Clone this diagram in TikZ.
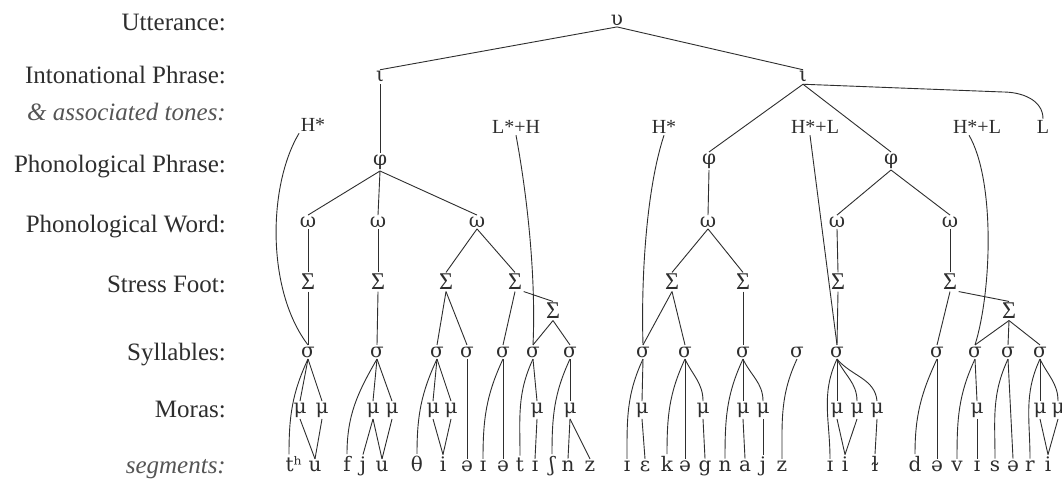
\documentclass[tikz,border=0pt]{standalone}
\usepackage{fontspec}
\setmainfont{Liberation Serif}
\newfontfamily\symfont{DejaVu Serif}
\definecolor{ink}{HTML}{2E2E2E}
\definecolor{soft}{HTML}{555555}
\tikzset{
  lab/.style={anchor=base east, inner sep=0pt, text=ink, font=\fontsize{25}{30}\selectfont},
  labit/.style={anchor=base east, inner sep=0pt, text=soft, font=\itshape\fontsize{25}{30}\selectfont},
  tone/.style={inner sep=1.5pt, text=ink, font=\fontsize{20}{24}\selectfont},
  sym/.style={inner sep=1.5pt, text=ink, font=\symfont\fontsize{20}{24}\selectfont},
  foot/.style={inner sep=1.5pt, text=ink, font=\fontsize{24}{28}\selectfont},
  seg/.style={anchor=base, inner sep=1.5pt, text=ink, font=\symfont\fontsize{20}{24}\selectfont},
  link/.style={draw=ink, line width=0.9pt},
  onsetc/.style={out=-115, in=90},
  codac/.style={out=-65, in=90},
}
\begin{document}
\begin{tikzpicture}[x=1pt,y=-1pt]
\useasboundingbox[fill=white] (0,0) rectangle (1062,486);
% level labels
\node[lab]   (l1) at (226,31)  {Utterance:};
\node[lab]   (l2) at (226,84)  {Intonational Phrase:};
\node[labit] (l3) at (226,121) {\& associated tones:};
\node[lab]   (l4) at (226,173) {Phonological Phrase:};
\node[lab]   (l5) at (226,233) {Phonological Word:};
\node[lab]   (l6) at (226,292) {Stress Foot:};
\node[lab]   (l7) at (226,360) {Syllables:};
\node[lab]   (l8) at (226,417) {Moras:};
\node[labit] (l9) at (226,473) {segments:};
% utterance, intonational phrases
\node[sym] (U)  at (617,20) {υ};
\node[sym] (I1) at (380,77) {ι};
\node[sym] (I2) at (803,77) {ι};
% tones
\node[tone] (T1) at (313,125) {H*};
\node[tone] (T2) at (516,127) {L*+H};
\node[tone] (T3) at (664,127) {H*};
\node[tone] (T4) at (815,127) {H*+L};
\node[tone] (T5) at (977,127) {H*+L};
\node[tone] (T6) at (1043,127) {L};
% phonological phrases
\node[sym] (P1) at (380,162) {φ};
\node[sym] (P2) at (709,161) {φ};
\node[sym] (P3) at (891,161) {φ};
% phonological words
\node[sym] (W1) at (308,222) {ω};
\node[sym] (W2) at (378,222) {ω};
\node[sym] (W3) at (477,222) {ω};
\node[sym] (W4) at (708,222) {ω};
\node[sym] (W5) at (837,222) {ω};
\node[sym] (W6) at (950,222) {ω};
% feet
\node[foot] (F1) at (308,282) {Σ};
\node[foot] (F2) at (378,282) {Σ};
\node[foot] (F3) at (446,282) {Σ};
\node[foot] (F4) at (515,282) {Σ};
\node[foot] (F5) at (672,282) {Σ};
\node[foot] (F6) at (743,282) {Σ};
\node[foot] (F7) at (838,282) {Σ};
\node[foot] (F8) at (950,282) {Σ};
\node[foot] (SF1) at (553,311) {Σ};
\node[foot] (SF2) at (1009,311) {Σ};
% syllables
\foreach \n/\x in {1/308,2/377,3/437,4/467,5/503,6/533,7/570,8/643,9/685,10/743,11/797,12/837,13/937,14/975,15/1008,16/1040}
  \node[sym] (S\n) at (\x,352) {σ};
% moras
\foreach \n/\x in {1/300,2/322,3/373,4/392,5/433,6/451,7/537,8/570,9/642,10/703,11/743,12/763,13/837,14/857,15/877,16/977,17/1040,18/1058}
  \node[sym] (m\n) at (\x,410) {μ};
% segments
\foreach \n/\x/\s in {1/294/tʰ,2/315/u,3/347/f,4/363/j,5/382/u,6/417/θ,7/443/i,8/467/ə,9/483/ɪ,10/503/ə,11/520/t,12/535/ɪ,13/552/ʃ,14/568/n,15/590/z,16/627/ɪ,17/645/ɛ,18/667/k,19/685/ə,20/705/g,21/725/n,22/745/a,23/763/j,24/782/z,25/830/ɪ,26/845/i,27/875/ɫ,28/915/d,29/937/ə,30/957/v,31/977/ɪ,32/995/s,33/1013/ə,34/1030/r,35/1048/i}
  \node[seg] (g\n) at (\x,471) {\s};
\coordinate (Lbend) at (1003,92);
% upper tree
\draw[link] (U.south) -- (I1.north);
\draw[link] (U.south) -- (I2.north);
\draw[link] (I1.south) -- (P1.north);
\draw[link] (I2.south) -- (P2.north);
\draw[link] (I2.south) -- (P3.north);
\draw[link] (I2.south) -- (Lbend) to[out=0, in=90] (T6.north);
\draw[link] (P1.south) -- (W1.north);
\draw[link] (P1.south) -- (W2.north);
\draw[link] (P1.south) -- (W3.north);
\draw[link] (P2.south) -- (W4.north);
\draw[link] (P3.south) -- (W5.north);
\draw[link] (P3.south) -- (W6.north);
\draw[link] (W1.south) -- (F1.north);
\draw[link] (W2.south) -- (F2.north);
\draw[link] (W3.south) -- (F3.north);
\draw[link] (W3.south) -- (F4.north);
\draw[link] (W4.south) -- (F5.north);
\draw[link] (W4.south) -- (F6.north);
\draw[link] (W5.south) -- (F7.north);
\draw[link] (W6.south) -- (F8.north);
\draw[link] (F1.south) -- (S1.north);
\draw[link] (F2.south) -- (S2.north);
\draw[link] (F3.south) -- (S3.north);
\draw[link] (F3.south) -- (S4.north);
\draw[link] (F4.south) -- (S5.north);
\draw[link] (F4.south east) -- (SF1.north);
\draw[link] (SF1.south) -- (S6.north);
\draw[link] (SF1.south) -- (S7.north);
\draw[link] (F5.south) -- (S8.north);
\draw[link] (F5.south) -- (S9.north);
\draw[link] (F6.south) -- (S10.north);
\draw[link] (F7.south) -- (S12.north);
\draw[link] (F8.south) -- (S13.north);
\draw[link] (F8.south east) -- (SF2.north);
\draw[link] (SF2.south) -- (S14.north);
\draw[link] (SF2.south) -- (S15.north);
\draw[link] (SF2.south) -- (S16.north);
% tone associations
\draw[link] (T1.south west) .. controls (268,185) and (266,290) .. (S1.north);
\draw[link] (T2.south) .. controls (528,200) and (536,280) .. (S6.north);
\draw[link] (T3.south) .. controls (646,190) and (641,280) .. (S8.north);
\draw[link] ([xshift=-5pt]T4.south) -- (S12.north);
\draw[link] ([xshift=-8pt]T5.south) .. controls (995,180) and (992,290) .. (S14.north);
% syllable 1: t^h u
\draw[link] (S1.south) to[onsetc] ([xshift=-5pt]g1.north);
\draw[link] (S1.south) -- (m1.north);
\draw[link] (S1.south) -- (m2.north);
\draw[link] (m1.south) -- (g2.north);
\draw[link] (m2.south) -- (g2.north);
% syllable 2: f j u
\draw[link] (S2.south) to[out=-120, in=90] (g3.north);
\draw[link] (S2.south) -- (m3.north);
\draw[link] (S2.south) -- (m4.north);
\draw[link] (m3.south) -- (g4.north);
\draw[link] (m3.south) -- (g5.north);
\draw[link] (m4.south) -- (g5.north);
% syllable 3
\draw[link] (S3.south) to[onsetc] (g6.north);
\draw[link] (S3.south) -- (m5.north);
\draw[link] (S3.south) -- (m6.north);
\draw[link] (m5.south) -- (g7.north);
\draw[link] (m6.south) -- (g7.north);
% syllable 4
\draw[link] (S4.south) -- (g8.north);
% syllable 5
\draw[link] (S5.south) to[onsetc] (g9.north);
\draw[link] (S5.south) -- (g10.north);
% syllable 6
\draw[link] (S6.south) to[onsetc] (g11.north);
\draw[link] (S6.south) -- (m7.north);
\draw[link] (m7.south) -- (g12.north);
% syllable 7
\draw[link] (S7.south) to[onsetc] (g13.north);
\draw[link] (S7.south) -- (m8.north);
\draw[link] (m8.south) -- (g14.north);
\draw[link] (m8.south) -- (g15.north);
% syllable 8
\draw[link] (S8.south) to[onsetc] (g16.north);
\draw[link] (S8.south) -- (m9.north);
\draw[link] (m9.south) -- (g17.north);
% syllable 9
\draw[link] (S9.south) to[onsetc] (g18.north);
\draw[link] (S9.south) -- (g19.north);
\draw[link] (S9.south) to[codac] (m10.north);
\draw[link] (m10.south) -- (g20.north);
% syllable 10
\draw[link] (S10.south) to[onsetc] (g21.north);
\draw[link] (S10.south) -- (m11.north);
\draw[link] (S10.south) to[codac] (m12.north);
\draw[link] (m11.south) -- (g22.north);
\draw[link] (m12.south) -- (g23.north);
% syllable 11
\draw[link] (S11.south) to[onsetc] (g24.north);
% syllable 12
\draw[link] (S12.south) to[onsetc] (g25.north);
\draw[link] (S12.south) -- (m13.north);
\draw[link] (S12.south) to[codac] (m14.north);
\draw[link] (S12.south) to[out=-50, in=95] (m15.north);
\draw[link] (m13.south) -- (g26.north);
\draw[link] (m14.south) -- (g26.north);
\draw[link] (m15.south) -- (g27.north);
% syllable 13
\draw[link] (S13.south) to[onsetc] (g28.north);
\draw[link] (S13.south) -- (g29.north);
% syllable 14
\draw[link] (S14.south) to[onsetc] (g30.north);
\draw[link] (S14.south) -- (m16.north);
\draw[link] (m16.south) -- (g31.north);
% syllable 15
\draw[link] (S15.south) to[onsetc] (g32.north);
\draw[link] (S15.south) -- (g33.north);
% syllable 16
\draw[link] (S16.south) to[onsetc] (g34.north);
\draw[link] (S16.south) -- (m17.north);
\draw[link] (S16.south) to[codac] (m18.north);
\draw[link] (m17.south) -- (g35.north);
\draw[link] (m18.south) -- (g35.north);
\end{tikzpicture}
\end{document}
